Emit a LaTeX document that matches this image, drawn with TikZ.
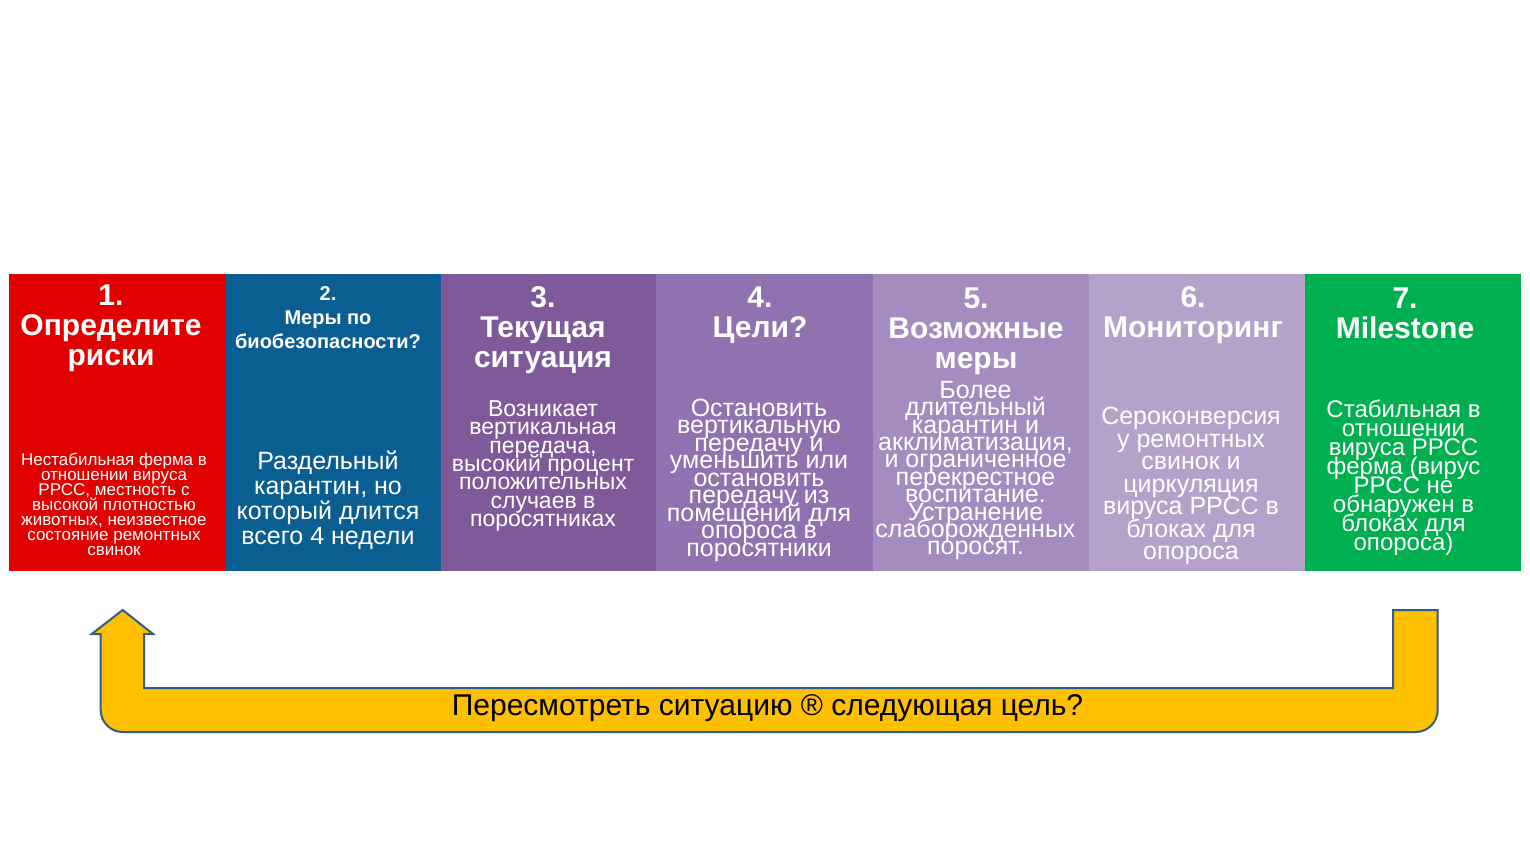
\documentclass[tikz,border=0pt]{standalone}
\usepackage{fontspec}
\setmainfont{Liberation Sans}
\definecolor{cred}{HTML}{E00000}
\definecolor{cblue}{HTML}{0A5E91}
\definecolor{cpurA}{HTML}{7E5A9B}
\definecolor{cpurB}{HTML}{8F72AF}
\definecolor{cpurC}{HTML}{A48CC1}
\definecolor{cpurD}{HTML}{B4A2CB}
\definecolor{cgreen}{HTML}{00B050}
\definecolor{arrfill}{HTML}{FFC000}
\definecolor{arrline}{HTML}{2E5F8A}
\newcommand{\fsz}[2]{\fontsize{#1bp}{#2bp}\selectfont\lineskiplimit=-100pt\relax}
\tikzset{
  head/.style={text=white, align=center, inner sep=0pt, font=\bfseries\fsz{30}{30}},
  headsmall/.style={text=white, align=center, inner sep=0pt, font=\bfseries\fsz{20}{24}},
  body/.style={text=white, align=center, inner sep=0pt},
}
\begin{document}
\begin{tikzpicture}[x=1bp, y=-1bp]
\useasboundingbox (0,0) rectangle (1530,861);
\fill[white] (0,0) rectangle (1530,861);
% columns
\fill[cred]   (9,274) rectangle (225,571);
\fill[cblue]  (225,274) rectangle (441,571);
\fill[cpurA]  (441,274) rectangle (656,571);
\fill[cpurB]  (656,274) rectangle (873,571);
\fill[cpurC]  (873,274) rectangle (1089,571);
\fill[cpurD]  (1089,274) rectangle (1305,571);
\fill[cgreen] (1305,274) rectangle (1521,571);
% headings
\node[head] (h1) at (111,328) {1.\\Определите\\риски};
\node[headsmall] (h2) at (328,318) {2.\\Меры по\\биобезопасности?};
\node[head] (h3) at (543,330) {3.\\Текущая\\ситуация};
\node[head] (h4) at (760,315) {4.\\Цели?};
\node[head] (h5) at (976,331) {5.\\Возможные\\меры};
\node[head] (h6) at (1193,315) {6.\\Мониторинг};
\node[head] (h7) at (1405,313) {7.\\Milestone};
% bodies
\node[body, font=\fsz{17}{15}] (b1) at (114,504)
  {Нестабильная ферма в\\отношении вируса\\РРСС, местность с\\высокой плотностью\\животных, неизвестное\\состояние ремонтных\\свинок};
\node[body, font=\fsz{25}{25}] (b2) at (328,500.5)
  {Раздельный\\карантин, но\\который длится\\всего 4 недели};
\node[body, font=\fsz{23}{18.3}] (b3) at (543,466)
  {Возникает\\вертикальная\\передача,\\высокий процент\\положительных\\случаев в\\поросятниках};
\node[body, font=\fsz{25}{17.5}] (b4) at (759,480)
  {Остановить\\вертикальную\\передачу и\\уменьшить или\\остановить\\передачу из\\помещений для\\опороса в\\поросятники};
\node[body, font=\fsz{25}{17.4}] (b5) at (975.5,470.5)
  {Более\\длительный\\карантин и\\акклиматизация,\\и ограниченное\\перекрестное\\воспитание.\\Устранение\\слаборожденных\\поросят.};
\node[body, font=\fsz{25}{22.5}] (b6) at (1191,486)
  {Сероконверсия\\у ремонтных\\свинок и\\циркуляция\\вируса РРСС в\\блоках для\\опороса};
\node[body, font=\fsz{24}{19}] (b7) at (1403.5,478)
  {Стабильная в\\отношении\\вируса РРСС\\ферма (вирус\\РРСС не\\обнаружен в\\блоках для\\опороса)};
% U-turn arrow
\draw[fill=arrfill, draw=arrline, line width=2bp, line join=miter]
  (122.7,610) -- (153,634) -- (144,634) -- (144,688) -- (1393,688) -- (1393,610)
  -- (1437.7,610) -- (1437.7,710) arc[start angle=0, end angle=90, radius=22]
  -- (122.7,732) arc[start angle=90, end angle=180, radius=22]
  -- (100.7,634) -- (91.7,634) -- cycle;
\node[inner sep=0pt, font=\fsz{30}{30}] (lbl) at (767.5,708)
  {Пересмотреть ситуацию ® следующая цель?};
\end{tikzpicture}
\end{document}
